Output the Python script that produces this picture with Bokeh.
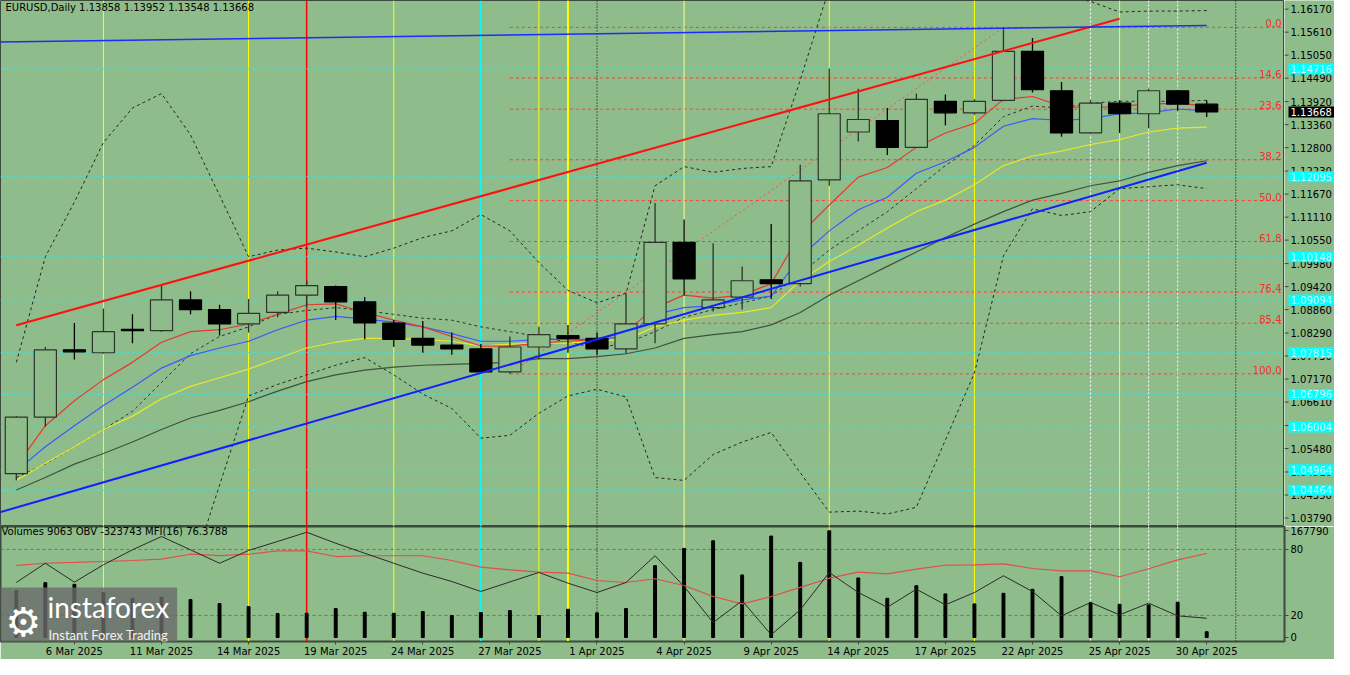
from bokeh.plotting import figure
from bokeh.models import Range1d, FixedTicker, Span, Label, ColumnDataSource
from bokeh.layouts import column, row
from bokeh.core.properties import value
from bokeh.embed import file_html
from bokeh.resources import INLINE

# ---------------- data ----------------
dates = ["4 Mar", "5 Mar", "6 Mar", "7 Mar", "10 Mar", "11 Mar", "12 Mar", "13 Mar", "14 Mar",
         "17 Mar", "18 Mar", "19 Mar", "20 Mar", "21 Mar", "24 Mar", "25 Mar", "26 Mar", "27 Mar",
         "28 Mar", "31 Mar", "1 Apr", "2 Apr", "3 Apr", "4 Apr", "7 Apr", "8 Apr", "9 Apr", "10 Apr",
         "11 Apr", "14 Apr", "15 Apr", "16 Apr", "17 Apr", "18 Apr", "21 Apr", "22 Apr", "23 Apr",
         "24 Apr", "25 Apr", "28 Apr", "29 Apr", "30 Apr"]

open_ = [1.04869, 1.06246, 1.07881, 1.07811, 1.08383, 1.08348, 1.09095, 1.08862, 1.08512, 1.08791,
         1.09212, 1.09422, 1.09048, 1.08535, 1.08161, 1.07998, 1.07904, 1.07344, 1.07951, 1.08231,
         1.08161, 1.07904, 1.08512, 1.10496, 1.08908, 1.09165, 1.09585, 1.09492, 1.12014, 1.13181,
         1.13461, 1.12808, 1.13928, 1.13648, 1.13952, 1.15143, 1.14185, 1.13158, 1.13882, 1.13625,
         1.14185, 1.13858]
high = [1.06270, 1.07951, 1.08535, 1.08885, 1.08745, 1.09469, 1.09305, 1.08978, 1.09118, 1.09305,
        1.09562, 1.09445, 1.09165, 1.08605, 1.08582, 1.08301, 1.08021, 1.08208, 1.08442, 1.08488,
        1.08301, 1.09259, 1.11453, 1.11054, 1.10473, 1.09912, 1.10940, 1.12387, 1.14722, 1.14232,
        1.13765, 1.14115, 1.14092, 1.13975, 1.15726, 1.15470, 1.14395, 1.13952, 1.13952, 1.14232,
        1.14209, 1.13952]
low = [1.04705, 1.06013, 1.07647, 1.07787, 1.08044, 1.08324, 1.08745, 1.08231, 1.08301, 1.08675,
       1.08932, 1.08605, 1.08138, 1.07951, 1.07811, 1.07764, 1.07320, 1.07297, 1.07647, 1.07811,
       1.07764, 1.07787, 1.08044, 1.09212, 1.08815, 1.08862, 1.09118, 1.09422, 1.11874, 1.12948,
       1.12621, 1.12808, 1.13345, 1.13602, 1.13928, 1.14139, 1.13065, 1.13135, 1.13158, 1.13275,
       1.13695, 1.13548]
close = [1.06246, 1.07881, 1.07834, 1.08324, 1.08348, 1.09095, 1.08862, 1.08512, 1.08768, 1.09212,
         1.09445, 1.09048, 1.08535, 1.08138, 1.07998, 1.07904, 1.07344, 1.07951, 1.08254, 1.08161,
         1.07904, 1.08512, 1.10496, 1.09609, 1.09095, 1.09562, 1.09492, 1.11990, 1.13625, 1.13485,
         1.12808, 1.13975, 1.13648, 1.13928, 1.15143, 1.14209, 1.13158, 1.13882, 1.13625, 1.14185,
         1.13858, 1.13668]

ma_red = [1.05055, 1.06036, 1.06643, 1.07157, 1.07577, 1.08067, 1.08324, 1.08371, 1.08511, 1.08745,
          1.08978, 1.09001, 1.08791, 1.08604, 1.08441, 1.08207, 1.07974, 1.07974, 1.08044, 1.08091,
          1.08137, 1.08324, 1.08908, 1.09212, 1.09141, 1.09212, 1.09492, 1.10706, 1.11406, 1.12084,
          1.12317, 1.12807, 1.13158, 1.13391, 1.13975, 1.14045, 1.13811, 1.13765, 1.13811, 1.13858,
          1.13882, 1.13811]
ma_blue = [1.04938, 1.05522, 1.06036, 1.06526, 1.06970, 1.07437, 1.07740, 1.07927, 1.08091, 1.08371,
           1.08604, 1.08698, 1.08628, 1.08558, 1.08441, 1.08278, 1.08091, 1.08091, 1.08137, 1.08137,
           1.08137, 1.08207, 1.08745, 1.08908, 1.08955, 1.09095, 1.09188, 1.10146, 1.10776, 1.11290,
           1.11593, 1.12177, 1.12457, 1.12807, 1.13321, 1.13508, 1.13461, 1.13508, 1.13625, 1.13648,
           1.13741, 1.13695]
ma_yellow = [1.04705, 1.05125, 1.05522, 1.05943, 1.06269, 1.06690, 1.06993, 1.07203, 1.07414, 1.07670,
             1.07927, 1.08067, 1.08161, 1.08161, 1.08137, 1.08091, 1.07974, 1.08021, 1.08044, 1.08044,
             1.08091, 1.08137, 1.08441, 1.08604, 1.08721, 1.08791, 1.08908, 1.09562, 1.10029, 1.10426,
             1.10846, 1.11243, 1.11523, 1.11897, 1.12364, 1.12597, 1.12714, 1.12877, 1.12994, 1.13181,
             1.13274, 1.13298]
ma_slow = [1.04471, 1.04775, 1.05102, 1.05359, 1.05639, 1.05943, 1.06223, 1.06410, 1.06620, 1.06877,
           1.07110, 1.07273, 1.07390, 1.07460, 1.07507, 1.07530, 1.07554, 1.07577, 1.07670, 1.07670,
           1.07717, 1.07787, 1.07927, 1.08161, 1.08254, 1.08324, 1.08488, 1.08791, 1.09212, 1.09562,
           1.09912, 1.10262, 1.10613, 1.10939, 1.11243, 1.11523, 1.11687, 1.11873, 1.11990, 1.12200,
           1.12364, 1.12481]
bb_mid = [1.04775, 1.05102, 1.05522, 1.05943, 1.06386, 1.07087, 1.07787, 1.08207, 1.08441, 1.08745,
          1.08838, 1.08908, 1.08838, 1.08745, 1.08651, 1.08604, 1.08441, 1.08324, 1.08207, 1.08067,
          1.07927, 1.08044, 1.08324, 1.08674, 1.08861, 1.09025, 1.09188, 1.09725, 1.10309, 1.10776,
          1.11243, 1.11803, 1.12364, 1.12854, 1.13555, 1.13811, 1.13765, 1.13882, 1.13928, 1.13928,
          1.13928, 1.13952]
bb_up = [1.07577, 1.10146, 1.11476, 1.12924, 1.13765, 1.14115, 1.13111, 1.11640, 1.10146, 1.10309,
         1.10356, 1.10262, 1.10146, 1.10356, 1.10613, 1.10776, 1.11173, 1.10776, 1.10005, 1.09328,
         1.09025, 1.09258, 1.11873, 1.12340, 1.12200, 1.12294, 1.12340, 1.14442, 1.16684, 1.17594,
         1.18598, 1.19556, 1.19042, 1.18388, 1.17314, 1.16847, 1.16497, 1.16357, 1.16100, 1.16123,
         1.16123, 1.16135]
bb_lo = [1.01973, 1.00058, 0.99568, 0.98961, 0.99008, 1.00058, 1.02417, 1.04588, 1.06760, 1.07040,
         1.07273, 1.07507, 1.07694, 1.07273, 1.06806, 1.06456, 1.05732, 1.05802, 1.06339, 1.06760,
         1.06923, 1.06736, 1.04775, 1.04705, 1.05335, 1.05639, 1.05872, 1.04892, 1.03934, 1.03958,
         1.03888, 1.04051, 1.05686, 1.07320, 1.10169, 1.11313, 1.11150, 1.11243, 1.11803, 1.11850,
         1.11897, 1.11803]

volume = [73700, 86250, 83580, 70560, 61630, 63200, 59590, 53320, 48610, 37630, 38100, 45470, 39670,
          38100, 40770, 34500, 39200, 42340, 34500, 44380, 38730, 45470, 112900, 140030, 152110,
          98320, 159480, 118080, 167790, 93620, 61630, 81540, 68530, 52850, 69470, 75740, 95650,
          54880, 52220, 51280, 55350, 9063]
mfi = [65.5, 67.5, 68.2, 69.1, 70.0, 71.2, 75.7, 74.5, 75.7, 78.8, 78.8, 73.6, 74.3, 74.3, 74.3, 70.0,
       63.9, 61.5, 59.4, 58.5, 51.8, 50.0, 53.4, 47.3, 37.3, 30.6, 37.3, 45.5, 53.9, 59.4, 57.9, 62.1,
       65.7, 66.1, 67.0, 62.7, 60.6, 60.6, 55.2, 62.5, 70.6, 76.3788]
obv_scaled = [50.0, 67.5, 50.3, 66.1, 79.7, 91.8, 79.7, 67.5, 79.1, 87.3, 95.7, 85.7, 76.6, 67.5, 58.5,
              50.9, 41.8, 50.5, 59.1, 49.4, 40.9, 50.0, 74.3, 46.4, 13.6, 33.4, 2.5, 25.2, 59.1, 40.9,
              27.5, 43.9, 29.7, 40.9, 56.1, 41.8, 19.7, 31.8, 20.6, 31.2, 19.7, 17.5]
obv_last = -323743

price_ticks = [1.16170, 1.15610, 1.15050, 1.14490, 1.13920, 1.13360, 1.12800, 1.12230, 1.11670,
               1.11110, 1.10550, 1.09980, 1.09420, 1.08860, 1.08290, 1.07730, 1.07170, 1.06610,
               1.06040, 1.05480, 1.04910, 1.04350, 1.03790]
cyan_levels = [1.14716, 1.12095, 1.10148, 1.09094, 1.07815, 1.06796, 1.06004, 1.04964, 1.04464]
fib_ratios = [0.0, 14.6, 23.6, 38.2, 50.0, 61.8, 76.4, 85.4, 100.0]
fib_low_bar, fib_high_bar = 17, 34

axis_ticks = [-1, 2, 5, 8, 11, 14, 17, 20, 23, 26, 29, 32, 35, 38, 41]
axis_labels = ["3 Mar 2025", "6 Mar 2025", "11 Mar 2025", "14 Mar 2025", "19 Mar 2025", "24 Mar 2025",
               "27 Mar 2025", "1 Apr 2025", "4 Apr 2025", "9 Apr 2025", "14 Apr 2025", "17 Apr 2025",
               "22 Apr 2025", "25 Apr 2025", "30 Apr 2025"]

# trend lines: (bar index, price) anchors
channel_x, channel_y = [0, 38], [1.08480, 1.15936]
support_x, support_y = [-1, 41], [1.03841, 1.12434]
resist_x, resist_y = [-1, 41], [1.15366, 1.15773]

# vertical markers: bar index, colour, width, dash
vlines = [(3, "#ffff00", 1, "solid"), (8, "#ffff00", 1, "solid"), (10, "#ff0000", 1.5, "solid"),
          (13, "#ffff00", 1, "solid"), (16, "#00ffff", 1.5, "solid"), (18, "#ffff00", 1, "solid"),
          (19, "#ffff00", 2, "solid"), (20, "#000000", 1, "1 2"), (23, "#ffff8c", 1, "solid"),
          (28, "#ffff00", 1, "solid"), (33, "#ffff00", 1, "solid"), (37, "#ffffff", 1, "2 2"),
          (38, "#ffff00", 1, "solid"), (39, "#ffffff", 1, "2 2"), (40, "#ffffff", 1, "2 2"),
          (42, "#000000", 1, "1 2")]

# ---------------- layout constants ----------------
BG = "#8fbc8b"
FRAME = "#3d4a3d"
FONT = "DejaVu Sans"
W = 1334
RB = 50
FW = W - RB
H_MAIN = 526
H_IND = 133
P_LO, P_HI = 1.03584, 1.16380
X_LO, X_HI = -0.545, 43.68
IND_LO, IND_HI = -3.64, 100.9
VOL_K = volume[28] / 97.0

n = len(dates)
idx = list(range(n))
xr = Range1d(X_LO, X_HI)
yr = Range1d(P_LO, P_HI)


def style_axis(ax):
    ax.axis_line_color = FRAME
    ax.major_tick_line_color = FRAME
    ax.minor_tick_line_color = None
    ax.major_tick_in = 0
    ax.major_tick_out = 4
    ax.major_label_text_font = FONT
    ax.major_label_text_font_size = "10px"
    ax.major_label_text_color = "#000000"


# ---------------- main price panel ----------------
main = figure(width=FW, height=H_MAIN, x_range=xr, y_range=yr,
              output_backend="svg", toolbar_location=None, x_axis_location=None,
              y_axis_location=None, min_border=0, background_fill_color=BG,
              border_fill_color=BG, outline_line_color=FRAME, outline_line_width=1)
main.grid.visible = False

for pos, col, wd, dash in vlines:
    main.add_layout(Span(location=pos, dimension="height", line_color=col, line_width=wd,
                         line_dash=dash, level="underlay"))
for lvl in cyan_levels:
    main.add_layout(Span(location=lvl, dimension="width", line_color="#3fe0dc", line_width=1,
                         line_dash="3 3", level="underlay"))

fib_hi = high[fib_high_bar]
fib_lo = low[fib_low_bar]
fib_prices = [fib_hi - r / 100.0 * (fib_hi - fib_lo) for r in fib_ratios]
main.segment(x0=[fib_low_bar] * len(fib_prices), y0=fib_prices, x1=[X_HI] * len(fib_prices),
             y1=fib_prices, line_color="#ff3c3c", line_dash="3 3", line_width=1, level="underlay")
main.line([fib_low_bar, fib_high_bar], [fib_lo, fib_hi], line_color="#ff4a4a", line_dash="2 3",
          line_width=1)

# indicator lines
main.line(idx, bb_up, line_color="#262626", line_dash="3 3", line_width=1)
main.line(idx, bb_lo, line_color="#262626", line_dash="3 3", line_width=1)
main.line(idx, bb_mid, line_color="#333333", line_dash="3 3", line_width=1)
main.line(idx, ma_slow, line_color="#3d533d", line_width=1.2)
main.line(idx, ma_yellow, line_color="#e8e82a", line_width=1.2)
main.line(idx, ma_blue, line_color="#3a5aff", line_width=1.2)
main.line(idx, ma_red, line_color="#e63a2e", line_width=1.2)

# candles
bull = [c >= o for o, c in zip(open_, close)]
src = ColumnDataSource(dict(
    x=idx, h=high, l=low,
    top=[max(o, c) for o, c in zip(open_, close)],
    bot=[min(o, c) for o, c in zip(open_, close)],
    fill=[BG if b else "#000000" for b in bull],
    line=["#2c352c" if b else "#000000" for b in bull],
))
main.segment(x0="x", y0="h", x1="x", y1="l", source=src, line_color="line", line_width=1.3)
main.vbar(x="x", width=0.76, top="top", bottom="bot", fill_color="fill", line_color="line",
          line_width=1.2, source=src)

# trend lines
main.line(channel_x, channel_y, line_color="#ff1010", line_width=2)
main.line(support_x, support_y, line_color="#1020ff", line_width=2)
main.line(resist_x, resist_y, line_color="#1a2cff", line_width=1.6)

# fib labels
for r, pr in zip(fib_ratios, fib_prices):
    main.add_layout(Label(x=FW - 3, y=pr, x_units="screen", y_units="data", text=f"{r:.1f}",
                          text_align="right", text_baseline="bottom", text_color="#ff2a2a",
                          text_font=FONT, text_font_size="10px"))

ppx = (P_HI - P_LO) / H_MAIN
main.add_layout(Label(x=5, y=P_HI - 7 * ppx, x_units="screen", y_units="data",
                      text=f"EURUSD,Daily  {open_[-1]:.5f} {high[-1]:.5f} {low[-1]:.5f} {close[-1]:.5f}",
                      text_baseline="middle", text_color="#000000", text_font=FONT,
                      text_font_size="10px"))

# ---------------- price scale strip (right) ----------------
side = figure(width=RB, height=H_MAIN, x_range=Range1d(0, RB), y_range=yr,
              output_backend="svg", toolbar_location=None, x_axis_location=None,
              y_axis_location=None, min_border=0, background_fill_color=BG,
              border_fill_color=BG, outline_line_color=None)
side.grid.visible = False
side.segment(x0=0, y0=price_ticks, x1=4, y1=price_ticks, line_color=FRAME, line_width=1)
side.text(x=6, y=price_ticks, text=[f"{t:.5f}" for t in price_ticks], text_baseline="middle",
          text_font=value(FONT), text_font_size="10px", text_color="#000000")
side.rect(x=27, y=cyan_levels, width=46, height=11, height_units="screen",
          fill_color="#00ffff", line_color=None)
side.text(x=6, y=cyan_levels, text=[f"{v:.5f}" for v in cyan_levels], text_baseline="middle",
          text_font=value(FONT), text_font_size="10px", text_color="#c4fbfb")
side.rect(x=27, y=[close[-1]], width=46, height=11, height_units="screen",
          fill_color="#000000", line_color=None)
side.text(x=6, y=[close[-1]], text=[f"{close[-1]:.5f}"], text_baseline="middle",
          text_font=value(FONT), text_font_size="10px", text_color="#ffffff")

# ---------------- indicator panel ----------------
ind = figure(width=W, height=H_IND, x_range=xr, y_range=Range1d(IND_LO, IND_HI),
             output_backend="svg", toolbar_location=None, x_axis_location="below",
             y_axis_location="right", min_border_left=0, min_border_right=RB,
             min_border_top=0, min_border_bottom=0, background_fill_color=BG,
             border_fill_color=BG, outline_line_color=FRAME, outline_line_width=2)
ind.grid.visible = False
ind.extra_y_ranges = {"vol": Range1d(IND_LO * VOL_K, IND_HI * VOL_K)}

iy = ind.yaxis[0]
style_axis(iy)
iy.ticker = FixedTicker(ticks=[0, 20, 80, 97])
iy.major_label_overrides = {97: f"{volume[28]}"}
iy.major_label_standoff = 2

ix = ind.xaxis[0]
style_axis(ix)
ix.ticker = FixedTicker(ticks=axis_ticks)
ix.major_label_overrides = {t: l for t, l in zip(axis_ticks, axis_labels)}
ix.major_label_text_align = "left"
ix.major_label_standoff = 1
ix.major_tick_out = 3

for pos, col, wd, dash in vlines:
    ind.add_layout(Span(location=pos, dimension="height", line_color=col, line_width=wd,
                        line_dash=dash, level="underlay"))
for lvl in (80, 20):
    ind.add_layout(Span(location=lvl, dimension="width", line_color="#ff3535", line_width=1,
                        line_dash="3 3", level="underlay"))

ind.vbar(x=idx, width=0.1, top=volume, bottom=0, fill_color="#000000", line_color="#000000",
         y_range_name="vol")
ind.line(idx, mfi, line_color="#e0504a", line_width=1.2)
ind.line(idx, obv_scaled, line_color="#2a2a2a", line_width=1)

ind.add_layout(Label(x=1, y=96, x_units="screen", y_units="data",
                     text=f"Volumes {volume[-1]}  OBV {obv_last}  MFI(16) {mfi[-1]}",
                     text_baseline="middle", text_color="#000000", text_font=FONT,
                     text_font_size="10px"))

# logo
try:
    logo = Label(x=0, y=19, x_units="screen", y_units="data", text="instaforex",
                 text_baseline="middle", text_color="#ffffff", text_font="Lato",
                 text_font_size="28px", background_fill_color="#6a6a6a",
                 background_fill_alpha=0.8, padding=dict(top=2, right=8, bottom=22, left=47))
except Exception:
    logo = Label(x=47, y=19, x_units="screen", y_units="data", text="instaforex",
                 text_baseline="middle", text_color="#ffffff", text_font="Lato",
                 text_font_size="28px", background_fill_color="#6a6a6a",
                 background_fill_alpha=0.8)
ind.add_layout(logo)
ind.add_layout(Label(x=48, y=2, x_units="screen", y_units="data", text="Instant Forex Trading",
                     text_baseline="middle", text_color="#f0f0f0", text_font="Lato",
                     text_font_size="13px"))
ind.add_layout(Label(x=5, y=14, x_units="screen", y_units="data", text="\u2699",
                     text_baseline="middle", text_color="#ffffff", text_font=FONT,
                     text_font_size="40px"))

layout = column(row(main, side, spacing=0), ind, spacing=0)
open("out.html", "w").write(file_html(layout, INLINE))
